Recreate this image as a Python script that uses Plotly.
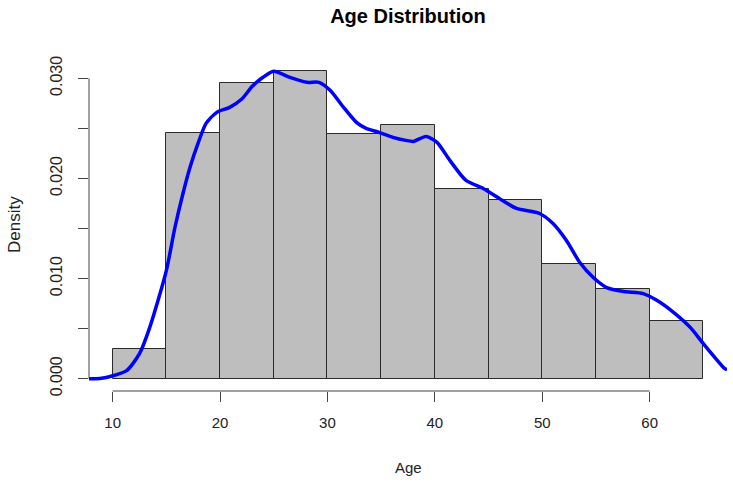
import plotly.graph_objects as go

# Histogram data (bin edges and densities)
bin_edges = [10, 15, 20, 25, 30, 35, 40, 45, 50, 55, 60, 65]
densities = [0.0030, 0.0245, 0.0295, 0.0307, 0.0244, 0.0253, 0.0189, 0.0178, 0.0115, 0.0090, 0.0058]

# Kernel density curve
kde_age = [7.8, 8.8, 9.7, 11.3, 12.5, 13.45, 15.0, 15.8, 16.55, 17.2, 17.95, 18.7,
           19.7, 20.9, 22.0, 23.0, 24.0, 25.0, 26.5, 28.1, 29.2, 30.25, 31.5, 32.7, 33.6, 34.8,
           36.1, 37.3, 38.0, 39.2, 40.2, 41.4, 42.9, 44.5, 46.0, 47.6, 49.75, 51.0, 52.25, 53.5,
           54.75, 56.0, 57.6, 59.4, 60.7, 62.25, 63.8, 65.0, 67.0, 67.2]
kde_dens = [0.0000, 0.00003, 0.0002, 0.0008, 0.0025, 0.0051, 0.0108, 0.0151,
            0.0185, 0.0211, 0.0235, 0.0255, 0.0266, 0.0271, 0.0279, 0.0292, 0.0301, 0.0307,
            0.0301, 0.0296, 0.0296, 0.0288, 0.0271, 0.0256, 0.0250, 0.0246, 0.0241, 0.0238,
            0.0237, 0.0242, 0.0236, 0.0218, 0.0198, 0.0190, 0.0180, 0.0170, 0.0165, 0.0155,
            0.0138, 0.0116, 0.0101, 0.0091, 0.0087, 0.0085, 0.0078, 0.0066, 0.0051, 0.0035,
            0.0010, 0.0009]

x_ticks = [10, 20, 30, 40, 50, 60]
y_ticks = [0.000, 0.005, 0.010, 0.015, 0.020, 0.025, 0.030]
y_ticktext = ["0.000", "", "0.010", "", "0.020", "", "0.030"]

mids = [(a + b) / 2 for a, b in zip(bin_edges[:-1], bin_edges[1:])]
widths = [b - a for a, b in zip(bin_edges[:-1], bin_edges[1:])]

fig = go.Figure()
fig.add_trace(go.Bar(x=mids, y=densities, width=widths,
                     marker=dict(color="#BEBEBE", line=dict(color="#2a2a2a", width=1)),
                     hoverinfo="skip"))
fig.add_trace(go.Scatter(x=kde_age, y=kde_dens, mode="lines",
                         line=dict(color="#0000FF", width=3.5, shape="spline", smoothing=0.7),
                         hoverinfo="skip"))

span = bin_edges[-1] - bin_edges[0]
xr = [bin_edges[0] - 0.04 * span, bin_edges[-1] + 0.04 * span]
ymax = max(densities)
yr = [-0.04 * ymax, ymax * 1.04]

fig.update_layout(
    width=733, height=483,
    margin=dict(l=89, r=6, t=59, b=92),
    paper_bgcolor="white", plot_bgcolor="white",
    showlegend=False,
    bargap=0,
    font=dict(family="Liberation Sans, Arial, sans-serif", color="black"),
    title=dict(text="<b>Age Distribution</b>", x=0.5565, xanchor="center",
               y=1 - 16 / 483, yref="container", yanchor="middle",
               font=dict(size=20, color="black")),
    xaxis=dict(range=xr, tickvals=x_ticks, ticks="outside", ticklen=10, tickcolor="#444",
               showgrid=False, zeroline=False, showline=False,
               tickfont=dict(size=15, color="#222"), ticklabelstandoff=8),
    yaxis=dict(range=yr, tickvals=y_ticks, ticktext=y_ticktext, ticks="outside", ticklen=10,
               tickcolor="#444", showgrid=False, zeroline=False, showline=False,
               tickangle=-90, tickfont=dict(size=16, color="#222"), ticklabelstandoff=10),
    shapes=[
        dict(type="line", xref="x", yref="paper", x0=x_ticks[0], x1=x_ticks[-1], y0=0, y1=0,
             line=dict(color="#444", width=1)),
        dict(type="line", xref="paper", yref="y", x0=0, x1=0, y0=y_ticks[0], y1=y_ticks[-1],
             line=dict(color="#444", width=1)),
    ],
    annotations=[
        dict(text="Age", xref="paper", yref="paper", x=0.5, y=0, yshift=-76,
             xanchor="center", yanchor="middle", showarrow=False,
             font=dict(size=15, color="#222")),
        dict(text="Density", xref="paper", yref="paper", x=0, y=0.5, xshift=-75,
             xanchor="center", yanchor="middle", textangle=-90, showarrow=False,
             font=dict(size=17, color="#222")),
    ],
)

fig.write_html("out.html", config={"displayModeBar": False},
               post_script="document.body.style.margin='0px';document.documentElement.style.margin='0px';")
